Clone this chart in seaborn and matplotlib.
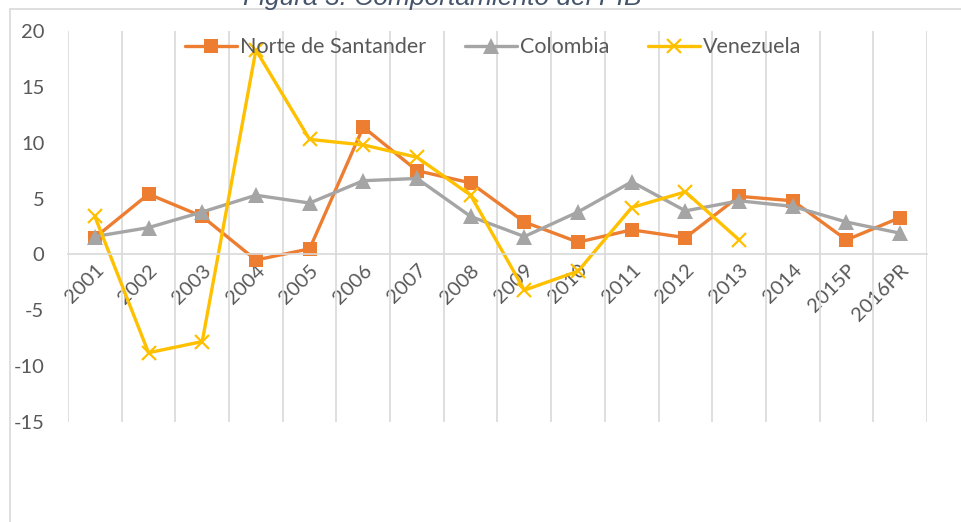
import numpy as np
import pandas as pd
import matplotlib
matplotlib.use("Agg")
import matplotlib.pyplot as plt
from matplotlib.lines import Line2D
import seaborn as sns

# Data
years = ["2001", "2002", "2003", "2004", "2005", "2006", "2007", "2008",
         "2009", "2010", "2011", "2012", "2013", "2014", "2015P", "2016PR"]
norte = [1.5, 5.4, 3.4, -0.5, 0.5, 11.4, 7.5, 6.4, 2.9, 1.1, 2.2, 1.5, 5.2, 4.8, 1.3, 3.3]
colombia = [1.6, 2.4, 3.8, 5.3, 4.6, 6.6, 6.8, 3.4, 1.6, 3.8, 6.5, 3.9, 4.8, 4.3, 2.9, 1.9]
venezuela = [3.4, -8.8, -7.8, 18.3, 10.3, 9.8, 8.7, 5.3, -3.2, -1.5, 4.2, 5.6, 1.3,
             np.nan, np.nan, np.nan]
y_ticks = [-15, -10, -5, 0, 5, 10, 15, 20]

series = [
    ("Norte de Santander", norte, "#ED7D31", "s", 10.5, 0),
    ("Colombia", colombia, "#A5A5A5", "^", 11.5, 0),
    ("Venezuela", venezuela, "#FFC000", "x", 10.5, 1.6),
]

sns.set_theme(style="white")
plt.rcParams["font.family"] = ["Lato", "DejaVu Sans"]

fig = plt.figure(figsize=(9.62, 5.22), dpi=100)
ax = fig.add_axes([68 / 962, 1 - 422 / 522, 859 / 962, 391 / 522])

pos = np.arange(len(years))
for name, vals, color, marker, ms, mew in series:
    df = pd.DataFrame({"x": pos, "y": vals}).dropna()
    sns.lineplot(data=df, x="x", y="y", ax=ax, color=color, linewidth=2.4,
                 marker=marker, markersize=ms, markeredgewidth=mew if mew else 0,
                 markeredgecolor=color, label=name, legend=False)

# x axis line sits at zero (do this first: it resets the ticks)
for s in ["left", "right", "top"]:
    ax.spines[s].set_visible(False)
ax.spines["bottom"].set_position(("data", 0))
ax.spines["bottom"].set_color("#D9D9D9")
ax.spines["bottom"].set_linewidth(1.2)
ax.set_axisbelow(True)

ax.set_xlim(-0.5, len(years) - 0.5)
ax.set_ylim(-15, 20)
ax.set_yticks(y_ticks)
ax.set_yticklabels([str(v) for v in y_ticks])
ax.set_xticks(pos)
ax.set_xticklabels(years, rotation=45, ha="right", va="top", rotation_mode="anchor")
ax.set_xlabel("")
ax.set_ylabel("")

# vertical gridlines at category boundaries
ax.set_xticks(np.arange(-0.5, len(years)), minor=True)
ax.grid(True, which="minor", axis="x", color="#D9D9D9", linewidth=1.2)
ax.grid(False, which="major")
ax.tick_params(axis="x", which="both", length=0, labelsize=14.5, colors="#595959", pad=5)
ax.tick_params(axis="y", length=0, labelsize=14.5, colors="#595959", pad=17)

handles = [Line2D([0], [0], color=c, linewidth=2.4, marker=m, markersize=ms,
                  markeredgewidth=mew if mew else 0, markeredgecolor=c)
           for _, _, c, m, ms, mew in series]
ax.legend(handles, [s[0] for s in series], loc="center", bbox_to_anchor=(0.495, 0.958),
          ncol=3, frameon=False, fontsize=15.5, handlelength=2.4, handletextpad=0.15,
          columnspacing=1.8, labelcolor="#595959")

# chart area border (clipped in the original)
fig.add_artist(Line2D([10 / 962, 1], [1 - 9 / 522, 1 - 9 / 522], color="#D9D9D9", linewidth=1.2))
fig.add_artist(Line2D([10 / 962, 10 / 962], [0, 1 - 9 / 522], color="#D9D9D9", linewidth=1.2))

# title, cut off at the top edge as in the original
fig.text(442 / 962, 1 - 5 / 522, "Figura 3. Comportamiento del PIB", ha="center", va="baseline",
         fontsize=19, style="italic", color="#44546A", family=["Liberation Sans", "DejaVu Sans"])

fig.savefig("out.png", dpi=100)
